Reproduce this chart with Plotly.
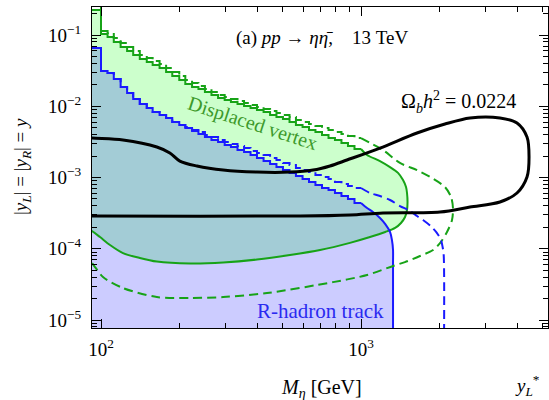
import plotly.graph_objects as go

# Mass grid (GeV) of the binned scan; each upper-edge value holds from mass_grid[i] to mass_grid[i+1]
mass_grid = [100, 106, 112, 119, 126, 133, 141, 150, 158, 168, 178, 188, 200, 211, 224, 237,
             251, 266, 282, 299, 316, 335, 355, 376, 398, 422, 447, 473, 501, 531, 562, 596,
             631, 668, 708, 750, 794, 841, 891, 944, 1000]

# Displaced-vertex reach (solid): binned upper edge, value above the first bin, smooth closing edge
dv_solid_upper = [0.1033, 0.0937, 0.0798, 0.0679, 0.0596, 0.0524, 0.0460, 0.0418, 0.0379, 0.0344,
                  0.0302, 0.0266, 0.0234, 0.0205, 0.0186, 0.01746, 0.01585, 0.01438, 0.01305, 0.01224,
                  0.01147, 0.01075, 0.01008, 0.00945, 0.00886, 0.00830, 0.00754, 0.00706, 0.00662, 0.00601,
                  0.00546, 0.00511, 0.00464, 0.00435, 0.00395, 0.00358, 0.00336, 0.00305, 0.00277, 0.00251]
dv_solid_cap = 0.224
dv_solid_edge_m = [1055, 1183, 1293, 1388, 1451, 1490, 1503, 1510, 1503, 1477, 1425, 1353, 1240, 1083,
                   907, 696, 533, 398, 295, 220, 164, 141, 121.5, 108.3, 99.1, 92.3, 86]
dv_solid_edge_y = [0.00207, 0.00170, 0.00140, 0.00116, 0.00092, 0.000735, 0.000606, 0.000453, 0.00035,
                   0.000279, 0.00023, 0.000196, 0.000172, 0.000146, 0.000121, 9.6e-5, 8.17e-5, 7.06e-5,
                   6.41e-5, 6.21e-5, 6.6e-5, 7.42e-5, 8.7e-5, 0.000113, 0.000146, 0.000177, 0.000205]

# Displaced-vertex reach (dashed)
dv_dash_upper = [0.1138, 0.1067, 0.0908, 0.0772, 0.0679, 0.0596, 0.0524, 0.0476, 0.0432, 0.0392,
                 0.0344, 0.0302, 0.0266, 0.0234, 0.0212, 0.01924, 0.01746, 0.01585, 0.01438, 0.01349,
                 0.01264, 0.01185, 0.01111, 0.01041, 0.00976, 0.00915, 0.00858, 0.00804, 0.00754, 0.00706,
                 0.00641, 0.00601, 0.00563, 0.00528, 0.00495, 0.00464, 0.00435, 0.00408, 0.00382, 0.00358]
dv_dash_cap = 0.3
dv_dash_edge_m = [1083, 1215, 1412, 1642, 1843, 2104, 2220, 2258, 2239, 2142, 2013, 1892, 1686, 1476,
                  1328, 1055, 780, 435, 295, 220, 164, 121.5, 101.8, 92.3, 85]
dv_dash_edge_y = [0.00305, 0.00243, 0.0016, 0.00127, 0.00102, 0.000735, 0.000532, 0.000373, 0.000253,
                  0.000172, 0.00012, 9.6e-5, 7.9e-5, 6.5e-5, 5.73e-5, 4.28e-5, 3.4e-5, 2.39e-5, 2.1e-5,
                  2.04e-5, 2.1e-5, 2.81e-5, 4.0e-5, 6.3e-5, 8.2e-5]

# R-hadron track reach (solid)
rh_solid_upper = [0.03125, 0.0293, 0.0241, 0.0186, 0.01535, 0.01264, 0.01075, 0.00945, 0.0083, 0.00754,
                  0.00684, 0.00601, 0.00546, 0.00495, 0.00449, 0.00408, 0.0037, 0.00336, 0.00315, 0.00286,
                  0.00268, 0.00243, 0.00228, 0.00207, 0.00188, 0.0017, 0.001546, 0.0014, 0.00127, 0.001157,
                  0.00105, 0.000953, 0.000865, 0.000785, 0.000712, 0.000668, 0.000606, 0.00055, 0.000499, 0.000439]
rh_solid_cap = 0.0657
rh_solid_edge_m = [1055, 1112, 1183, 1240, 1293, 1315, 1328, 1328, 1328]
rh_solid_edge_y = [0.000373, 0.000328, 0.00027, 0.000222, 0.000172, 0.000133, 9.6e-5, 6.3e-5, 1e-6]

# R-hadron track reach (dashed)
rh_dash_upper = [0.03125, 0.0293, 0.0241, 0.0186, 0.01535, 0.01264, 0.01075, 0.00945, 0.0083, 0.00754,
                 0.00684, 0.00601, 0.00546, 0.00511, 0.00464, 0.00435, 0.00395, 0.0037, 0.00336, 0.00315,
                 0.00295, 0.00277, 0.00259, 0.00235, 0.00221, 0.00207, 0.00188, 0.00176, 0.0016, 0.0015,
                 0.00136, 0.00127, 0.00119, 0.001084, 0.001016, 0.000953, 0.000865, 0.00081, 0.00076, 0.000712]
rh_dash_cap = 0.0657
rh_dash_edge_m = [1083, 1183, 1293, 1412, 1543, 1642, 1732, 1850, 1960, 2030, 2060, 2080, 2080]
rh_dash_edge_y = [0.000606, 0.00055, 0.000483, 0.000398, 0.000339, 0.000288, 0.000253, 0.000209,
                  0.000166, 0.000133, 0.000106, 8.2e-5, 1e-6]

# Baryon-asymmetry contour Omega_b h^2 = 0.0224
omega_m = [85, 92.3, 121.5, 164, 184, 201, 234, 295, 398, 533, 654, 760, 883, 1183, 1642, 2104, 2626,
           3423, 3981, 4350, 4429, 4350, 3981, 3423, 2626, 2013, 1215, 907, 583, 92.3, 85]
omega_y = [0.0037, 0.00358, 0.00336, 0.00268, 0.00221, 0.0017, 0.00145, 0.00127, 0.00119, 0.00119,
           0.00127, 0.00145, 0.00176, 0.00259, 0.00421, 0.00563, 0.00684, 0.00684, 0.00582, 0.0037,
           0.00194, 0.001016, 0.000606, 0.000453, 0.000385, 0.000328, 0.000318, 0.000298, 0.000288,
           0.000288, 0.000288]

x_major = [100, 1000]
x_major_text = ["10<sup>2</sup>", "10<sup>3</sup>"]
y_major = [1e-5, 1e-4, 1e-3, 1e-2, 1e-1]
y_major_text = ["10<sup>−5</sup>", "10<sup>−4</sup>", "10<sup>−3</sup>", "10<sup>−2</sup>", "10<sup>−1</sup>"]

GREEN = "#17a317"
BLUE = "#1a1aff"
FONT = "Liberation Serif"


def binned_edge(masses, values, cap):
    """Vertices of a binned (step) upper edge, starting off the left of the axes at the cap value."""
    xs, ys = [80, masses[0]], [cap, cap]
    for i, v in enumerate(values):
        xs += [masses[i], masses[i + 1]]
        ys += [v, v]
    return xs, ys


fig = go.Figure()


def add_region(masses, upper, cap, edge_m, edge_y, color, fillcolor, dash, fill_bottom):
    sx, sy = binned_edge(masses, upper, cap)
    if fillcolor:
        px = sx + edge_m + [80]
        py = sy + edge_y + [fill_bottom]
        fig.add_trace(go.Scatter(x=px, y=py, mode="lines", fill="toself", fillcolor=fillcolor,
                                 line=dict(width=0), hoverinfo="skip", showlegend=False))
    return sx, sy, color, dash, edge_m, edge_y


regions = [
    add_region(mass_grid, dv_solid_upper, dv_solid_cap, dv_solid_edge_m, dv_solid_edge_y,
               GREEN, "rgba(0,255,0,0.2)", "solid", dv_solid_edge_y[-1]),
    add_region(mass_grid, rh_solid_upper, rh_solid_cap, rh_solid_edge_m, rh_solid_edge_y,
               BLUE, "rgba(0,0,255,0.2)", "solid", 1e-6),
    add_region(mass_grid, dv_dash_upper, dv_dash_cap, dv_dash_edge_m, dv_dash_edge_y,
               GREEN, None, "9px,5px", None),
    add_region(mass_grid, rh_dash_upper, rh_dash_cap, rh_dash_edge_m, rh_dash_edge_y,
               BLUE, None, "9px,5px", None),
]

for sx, sy, color, dash, em, ey in regions:
    fig.add_trace(go.Scatter(x=sx, y=sy, mode="lines", line=dict(color=color, width=2, dash=dash),
                             hoverinfo="skip", showlegend=False))
    fig.add_trace(go.Scatter(x=[sx[-1]] + em, y=[sy[-1]] + ey, mode="lines",
                             line=dict(color=color, width=2, dash=dash, shape="spline", smoothing=0.8),
                             hoverinfo="skip", showlegend=False))

fig.add_trace(go.Scatter(x=omega_m, y=omega_y, mode="lines",
                         line=dict(color="black", width=3, shape="spline", smoothing=0.9),
                         hoverinfo="skip", showlegend=False))

# Axes: log-log frame with inside ticks on all four sides
x_minor = [200, 300, 400, 500, 600, 700, 800, 900, 2000, 3000, 4000, 5000]
y_minor = [m * 10.0 ** e for e in range(-6, 0) for m in range(2, 10)]

axis_common = dict(type="log", showgrid=False, zeroline=False, showline=True, linecolor="black",
                   linewidth=1, mirror="allticks", ticks="inside", ticklen=9, tickwidth=1,
                   tickcolor="black", tickfont=dict(family=FONT, size=19, color="black"))

fig.update_xaxes(range=[1.96538, 3.71923], tickmode="array", tickvals=x_major, ticktext=x_major_text,
                 minor=dict(tickmode="array", tickvals=x_minor, ticks="inside", ticklen=5,
                            tickwidth=1, tickcolor="black", showgrid=False),
                 ticklabelstandoff=4, **axis_common)
fig.update_yaxes(range=[-5.1123, -0.607], tickmode="array", tickvals=y_major, ticktext=y_major_text,
                 minor=dict(tickmode="array", tickvals=y_minor, ticks="inside", ticklen=5,
                            tickwidth=1, tickcolor="black", showgrid=False),
                 ticklabelstandoff=6, **axis_common)

nb = "\u00a0"
annotations = [
    dict(text="(a) <i>pp</i> → <i>ηη̄</i>," + nb * 4 + "13 TeV", x=0.504, y=0.903, size=19, color="black", angle=0),
    dict(text="Ω<sub><i>b</i></sub><i>h</i><sup>2</sup> = 0.0224", x=0.803, y=0.704, size=20, color="black", angle=0),
    dict(text="Displaced vertex", x=0.353, y=0.636, size=20, color="#3d9a2b", angle=18),
    dict(text="R-hadron track", x=0.5, y=0.053, size=21, color="#2a2af0", angle=0),
    dict(text="<i>M</i><sub><i>η</i></sub> [GeV]", x=0.504, y=-0.187, size=20, color="black", angle=0),
    dict(text="<i>y</i><sub><i>L</i></sub><sup>*</sup>", x=0.956, y=-0.18, size=19, color="black", angle=0),
    dict(text="|<i>y</i><sub><i>L</i></sub>| = |<i>y</i><sub><i>R</i></sub>| = <i>y</i>", x=-0.1535, y=0.5016,
         size=19, color="black", angle=-90),
]
for a in annotations:
    fig.add_annotation(text=a["text"], x=a["x"], y=a["y"], xref="paper", yref="paper",
                       xanchor="center", yanchor="middle", showarrow=False, textangle=a["angle"],
                       font=dict(family=FONT, size=a["size"], color=a["color"]))

fig.update_layout(width=549, height=400, margin=dict(l=92, r=1, t=7, b=72),
                  paper_bgcolor="white", plot_bgcolor="white",
                  font=dict(family=FONT, color="black"), showlegend=False)

fig.write_html("out.html")
